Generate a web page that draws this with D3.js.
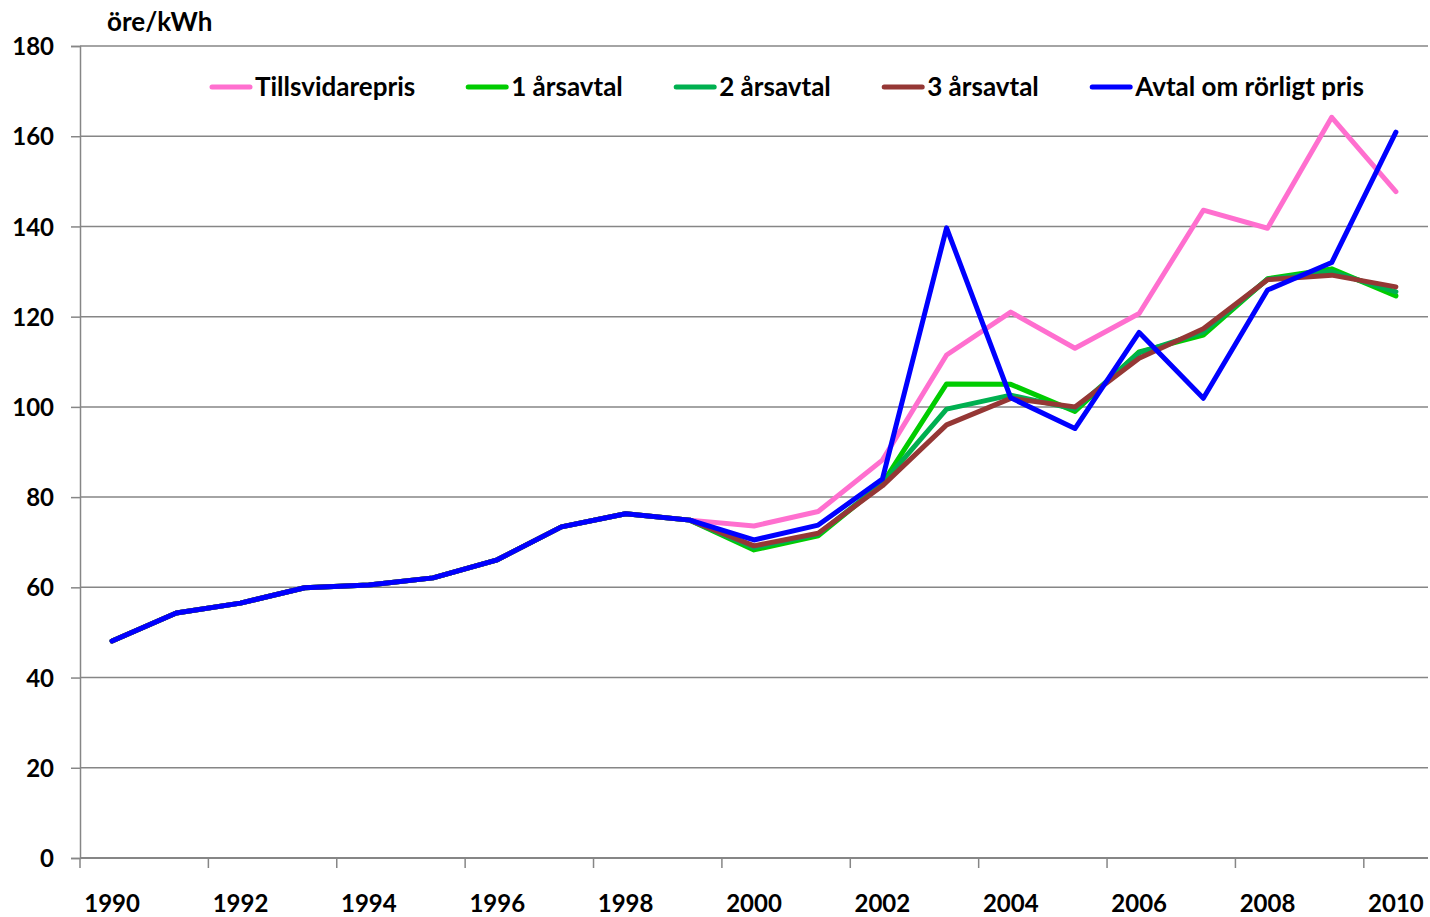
<!DOCTYPE html>
<html>
<head>
<meta charset="utf-8">
<script src="https://cdn.jsdelivr.net/npm/d3@7"></script>
<style>
  body { margin: 0; background: #fff; }
  svg text { font-family: Lato, "Open Sans", sans-serif; font-weight: bold; fill: #000; }
</style>
</head>
<body>
<svg id="chart-svg" width="1430" height="917"></svg>
<script>
////////////////////////////////////////////////////////////////////////////////
// Data (öre/kWh)
var years = d3.range(1990, 2011);
var yTicks = [0, 20, 40, 60, 80, 100, 120, 140, 160, 180];
var seriesNames = ["Tillsvidarepris", "1 årsavtal", "2 årsavtal", "3 årsavtal", "Avtal om rörligt pris"];
var seriesColors = ["#ff6fcf", "#00cc00", "#00b050", "#953735", "#0000ff"];

// common part up to 1999
var early = [48.1, 54.3, 56.5, 59.9, 60.5, 62.1, 66.1, 73.4, 76.3, 74.9];
var tillsvidare = early.concat([73.6, 76.8, 88.2, 111.5, 121.0, 113.0, 120.7, 143.6, 139.6, 164.2, 147.7]);
var ars1 = early.concat([68.3, 71.4, 83.0, 105.1, 105.0, 99.0, 112.2, 115.9, 128.4, 130.6, 124.6]);
var ars2 = early.concat([68.8, 71.8, 83.0, 99.5, 102.6, 99.5, 112.0, 116.6, 128.3, 130.0, 125.5]);
var ars3 = early.concat([69.2, 72.0, 82.5, 96.0, 101.9, 100.0, 110.8, 117.3, 128.2, 129.2, 126.6]);
var rorligt = early.concat([70.5, 73.8, 84.0, 139.7, 102.0, 95.2, 116.5, 101.9, 125.9, 132.0, 160.9]);
var seriesValues = [tillsvidare, ars1, ars2, ars3, rorligt];

////////////////////////////////////////////////////////////////////////////////
const svg = d3.select("#chart-svg");
var margin_left = 80, margin_right = 2, margin_top = 46, margin_bottom = 59;
var w = 1430, h = 917;
var plot_w = w - margin_left - margin_right;
var plot_h = h - margin_top - margin_bottom;
var axisColor = "#868686";

var x = d3.scaleBand().domain(years).range([0, plot_w]).padding(0);
var y = d3.scaleLinear().domain([0, 180]).range([plot_h, 0]);
var bw = x.bandwidth();

var g = svg.append("g").attr("transform", "translate(" + margin_left + "," + margin_top + ")");

// gridlines
g.selectAll(".grid")
    .data(yTicks.filter(function(d) { return d > 0; }))
    .enter()
    .append("line")
    .attr("x1", 0)
    .attr("x2", plot_w)
    .attr("y1", function(d) { return y(d); })
    .attr("y2", function(d) { return y(d); })
    .attr("stroke", axisColor)
    .attr("stroke-width", 1.5);

// y axis
var yAxis = g.append("g")
    .call(d3.axisLeft(y).tickValues(yTicks).tickSize(9).tickPadding(17).tickFormat(d3.format("d")));
yAxis.select(".domain").attr("stroke", axisColor).attr("stroke-width", 1.5);
yAxis.selectAll(".tick line").attr("stroke", axisColor).attr("stroke-width", 1.5);
yAxis.selectAll(".tick text").style("font-size", "24px").attr("dy", "0.36em");

// x axis: baseline, ticks every second year at the band edge, labels centred
g.append("line")
    .attr("x1", 0).attr("x2", plot_w)
    .attr("y1", plot_h).attr("y2", plot_h)
    .attr("stroke", axisColor).attr("stroke-width", 2);
var labelYears = years.filter(function(d) { return d % 2 == 0; });
g.selectAll(".xtick")
    .data(labelYears)
    .enter()
    .append("line")
    .attr("x1", function(d) { return x(d); })
    .attr("x2", function(d) { return x(d); })
    .attr("y1", plot_h)
    .attr("y2", plot_h + 10)
    .attr("stroke", axisColor)
    .attr("stroke-width", 1.5);
g.selectAll(".xlabel")
    .data(labelYears)
    .enter()
    .append("text")
    .attr("x", function(d) { return x(d) + bw / 2; })
    .attr("y", plot_h + 54)
    .attr("text-anchor", "middle")
    .style("font-size", "24px")
    .text(function(d) { return d; });

// unit label
svg.append("text")
    .attr("x", 107)
    .attr("y", 31)
    .style("font-size", "26px")
    .text("öre/kWh");

// lines
var line = d3.line()
    .x(function(d, i) { return x(years[i]) + bw / 2; })
    .y(function(d) { return y(d); });
g.selectAll(".series")
    .data(seriesValues)
    .enter()
    .append("path")
    .attr("d", line)
    .attr("fill", "none")
    .attr("stroke", function(d, i) { return seriesColors[i]; })
    .attr("stroke-width", 5)
    .attr("stroke-linejoin", "round")
    .attr("stroke-linecap", "round");

// legend - entries at least 208px apart, wider if the text needs it
var legend = svg.append("g").attr("transform", "translate(210,87)");
var legX = 0;
seriesNames.forEach(function(name, i) {
  var entry = legend.append("g").attr("transform", "translate(" + legX + ",0)");
  entry.append("line")
      .attr("x1", 2).attr("x2", 40)
      .attr("y1", 0).attr("y2", 0)
      .attr("stroke", seriesColors[i])
      .attr("stroke-width", 5)
      .attr("stroke-linecap", "round");
  var t = entry.append("text")
      .attr("x", 45)
      .attr("y", 9)
      .style("font-size", "26px")
      .text(name);
  legX += Math.max(208, 45 + t.node().getComputedTextLength() + 51);
});
</script>
</body>
</html>
